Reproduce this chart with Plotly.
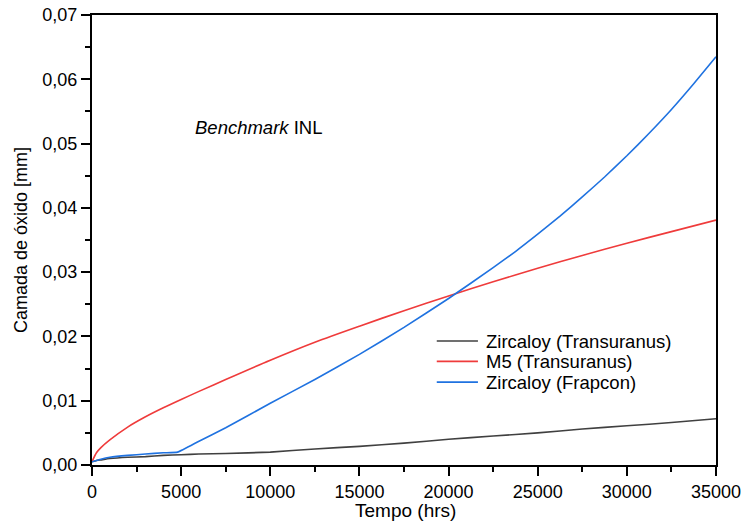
import plotly.graph_objects as go

# Oxide layer thickness vs. time (INL benchmark)
tempo = [0, 250, 500, 1000, 2000, 3000, 4000, 5000, 6000, 7500, 10000, 12500, 15000,
         17500, 20000, 22500, 25000, 27500, 30000, 32500, 35000]

zirc_transuranus = [0.0005, 0.0007, 0.0008, 0.0010, 0.0012, 0.0013, 0.0015, 0.0016, 0.0017,
                    0.0018, 0.0020, 0.0025, 0.0029, 0.0034, 0.0040, 0.0045, 0.0050,
                    0.0056, 0.0061, 0.0066, 0.0072]

m5_transuranus = [0.0005, 0.0019, 0.0027, 0.0039, 0.0059, 0.0075, 0.0089, 0.0102, 0.01145,
                  0.0133, 0.0163, 0.0191, 0.0216, 0.0240, 0.0263, 0.0285, 0.0306,
                  0.0326, 0.0345, 0.0363, 0.0381]

tempo_frapcon = [0, 250, 500, 1000, 2000, 3000, 4000, 4800, 6000, 7500, 10000, 12500,
                 15000, 17500, 20000, 22500, 23750, 25000, 26250, 27500, 28750, 30000,
                 31250, 32500, 33750, 35000]
zirc_frapcon = [0.0005, 0.0007, 0.0009, 0.0012, 0.0015, 0.0017, 0.0019, 0.0020, 0.0037,
                0.0058, 0.0096, 0.0133, 0.0172, 0.0214, 0.0259, 0.0307, 0.0332, 0.0359,
                0.0387, 0.0417, 0.0448, 0.0481, 0.0516, 0.0553, 0.0593, 0.0635]

series_names = ["Zircaloy (Transuranus)", "M5 (Transuranus)", "Zircaloy (Frapcon)"]
series_colors = ["#404040", "#ef3b3b", "#1f72e0"]

x_ticks = [0, 5000, 10000, 15000, 20000, 25000, 30000, 35000]
y_ticks = [0.00, 0.01, 0.02, 0.03, 0.04, 0.05, 0.06, 0.07]

FONT = "Liberation Sans, Arial, sans-serif"

fig = go.Figure()
fig.add_trace(go.Scatter(x=tempo, y=zirc_transuranus, mode="lines",
                         name=series_names[0], showlegend=False,
                         line=dict(color=series_colors[0], width=1.6, shape="spline", smoothing=0.4)))
fig.add_trace(go.Scatter(x=tempo, y=m5_transuranus, mode="lines",
                         name=series_names[1], showlegend=False,
                         line=dict(color=series_colors[1], width=1.6, shape="spline", smoothing=0.8)))
fig.add_trace(go.Scatter(x=tempo_frapcon, y=zirc_frapcon, mode="lines",
                         name=series_names[2], showlegend=False,
                         line=dict(color=series_colors[2], width=1.6, shape="spline", smoothing=0.4)))

# Compact legend: sample line + label per series
legend_x0, legend_x1, legend_tx = 0.5525, 0.6185, 0.628
legend_rows = [0.2754, 0.2303, 0.1842]
for name, color, ly in zip(series_names, series_colors, legend_rows):
    fig.add_shape(type="line", xref="paper", yref="paper",
                  x0=legend_x0, x1=legend_x1, y0=ly, y1=ly,
                  line=dict(color=color, width=1.6))
    fig.add_annotation(text=name, x=legend_tx, y=ly, xref="paper", yref="paper",
                       xanchor="left", yanchor="middle", showarrow=False,
                       font=dict(family=FONT, size=18.5, color="#000000"))

fig.add_annotation(text="<i>Benchmark</i> INL", x=0.162, y=0.75, xref="paper", yref="paper",
                   xanchor="left", yanchor="middle", showarrow=False,
                   font=dict(family=FONT, size=18.5, color="#000000"))

# X-axis title placed just below the tick labels
fig.add_annotation(text="Tempo (hrs)", x=0.502, y=-0.101, xref="paper", yref="paper",
                   xanchor="center", yanchor="middle", showarrow=False,
                   font=dict(family=FONT, size=19, color="#000000"))

axis_common = dict(showline=True, linecolor="#000000", linewidth=2, mirror=True,
                   ticks="outside", tickcolor="#000000", tickwidth=2, ticklen=9,
                   showgrid=False, zeroline=False, automargin=False,
                   tickfont=dict(family=FONT, size=18, color="#000000"))

fig.update_layout(
    width=744, height=528,
    margin=dict(l=92, r=28, t=15, b=63),
    paper_bgcolor="white", plot_bgcolor="white",
    separators=",.",
    font=dict(family=FONT, color="#000000"),
    xaxis=dict(range=[0, 35000], tickvals=x_ticks, tickformat="d",
               minor=dict(ticks="outside", ticklen=5, tickwidth=2, tickcolor="#000000",
                          dtick=2500, tick0=0),
               **axis_common),
    yaxis=dict(range=[0, 0.07], tickvals=y_ticks, tickformat=".2f",
               minor=dict(ticks="outside", ticklen=5, tickwidth=2, tickcolor="#000000",
                          dtick=0.005, tick0=0),
               title=dict(text="Camada de óxido [mm]", font=dict(family=FONT, size=18), standoff=10),
               **axis_common),
    showlegend=False,
)

fig.write_html("out.html")
